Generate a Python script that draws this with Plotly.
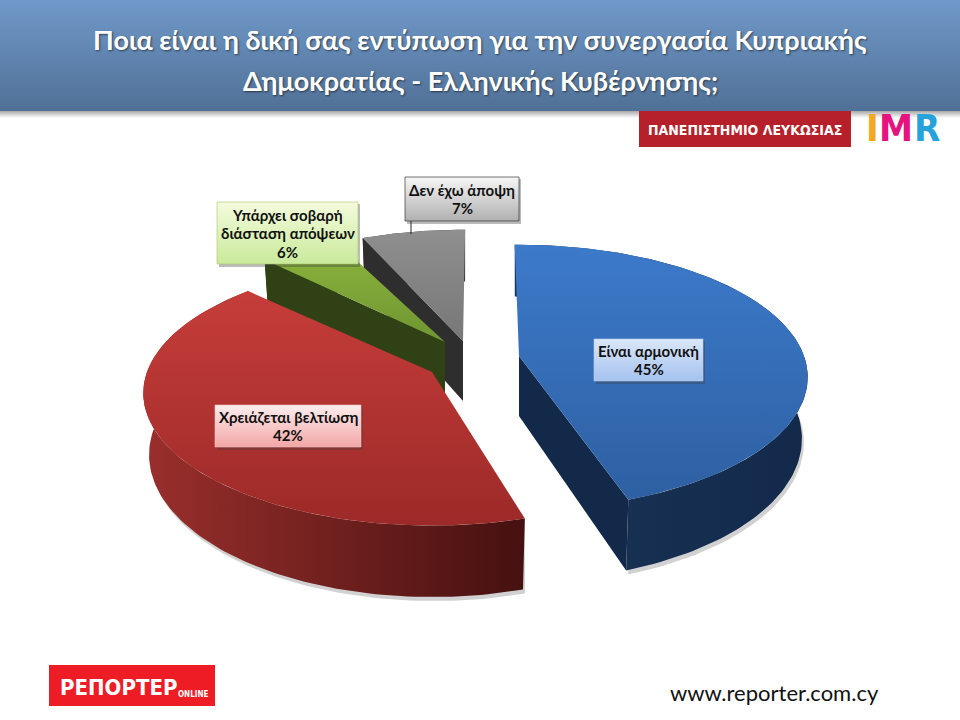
import numpy as np
import plotly.graph_objects as go

# ---------- data ----------
categories = ["Είναι αρμονική", "Χρειάζεται βελτίωση", "Υπάρχει σοβαρή διάσταση απόψεων", "Δεν έχω άποψη"]
shares = [45, 42, 6, 7]
label_lines = [["Είναι αρμονική"], ["Χρειάζεται βελτίωση"], ["Υπάρχει σοβαρή", "διάσταση απόψεων"], ["Δεν έχω άποψη"]]
title_lines = ["Ποια είναι η δική σας εντύπωση για την συνεργασία Κυπριακής",
               "Δημοκρατίας - Ελληνικής Κυβέρνησης;"]
site = "www.reporter.com.cy"

# ---------- pie projection (page pixels) ----------
START_DEG = -1.0
RX, RY, PERSP = 285.0, 129.0, 0.16
HEIGHT, BOTTOM_SHRINK = 60.0, 0.98
apex = [(519, 356), (432, 372), (445, 342), (463, 341)]
trim = [(0, 0), (3, 2), (3, 0), (2.4, 1.5)]
top_grad = [("#3c7aca", "#2e60a2"), ("#c63d3a", "#9c2a28"), ("#8db53d", "#6f9631"), ("#8f8f8f", "#777777")]
wall_grad = [("#1a3558", "#12294a"), ("#9a2f2c", "#451110"), ("#3a4f1c", "#2f4115"), ("#3a3a3a", "#2e2e2e")]
boxes = [(594, 339, 703, 381), (215, 405, 361, 447), (217, 202, 358, 264), (405, 177, 519, 221)]
box_grad = [("#dbe7fa", "#a5c2ef"), ("#fdeeee", "#f3a6a6"), ("#f4fbdc", "#c9ea9b"), ("#f6f6f6", "#b0b0b0")]
box_line = ["#b9cdea", "#f2c4c4", "#a9c56c", "#1a1a1a"]
NARROW = "DejaVu Sans Condensed"


def project(theta_deg, ax, ay):
    t = np.radians(theta_deg)
    u, v = np.sin(t), np.cos(t)
    w = 1 + PERSP * v
    return ax + RX * u / w, ay - RY * v / w, w


def poly(fig, xs, ys, c0, c1=None, kind="vertical", opacity=None, line=None):
    xs = list(xs) + [xs[0]]
    ys = list(ys) + [ys[0]]
    tr = dict(x=xs, y=ys, mode="lines", fill="toself", hoverinfo="skip", showlegend=False,
              line=dict(width=0.6 if line else 0, color=line or "rgba(0,0,0,0)"))
    if c1 is None:
        tr["fillcolor"] = c0
    elif kind == "vertical":
        # the y axis is reversed: colour 1 is the top of the screen
        tr["fillgradient"] = dict(type=kind, colorscale=[[0, c1], [1, c0]])
    else:
        tr["fillgradient"] = dict(type=kind, colorscale=[[0, c0], [1, c1]])
    if opacity is not None:
        tr["opacity"] = opacity
    fig.add_trace(go.Scatter(**tr))


def rect(fig, x0, y0, x1, y1, c0, c1=None, kind="vertical", **kw):
    poly(fig, [x0, x1, x1, x0], [y0, y0, y1, y1], c0, c1, kind, **kw)


def text(fig, x, y, s, size, color="#000000", bold=False, family="Lato", shadow=None, xanchor="center"):
    fig.add_annotation(x=x, y=y, text=s, showarrow=False, xref="x", yref="y", xanchor=xanchor, yanchor="middle",
                       font=dict(size=size, color=color, family=family, weight="bold" if bold else "normal",
                                 shadow=shadow or "none"))


fig = go.Figure()

# header band with drop shadow
rect(fig, 0, 111, 960, 118, "#a9a9a9", "#ffffff")
rect(fig, 0, 0, 960, 111, "#7099c9", "#507096")

# wedge geometry from shares
edges = START_DEG + np.cumsum([0] + shares) * 3.6
geom = []
for i in range(len(shares)):
    a0, a1 = edges[i] + trim[i][0], edges[i + 1] + trim[i][1]
    th = np.linspace(a0, a1, 120)
    ax, ay = apex[i]
    x, y, w = project(th, ax, ay)
    bx = ax + (x - ax) * BOTTOM_SHRINK
    by = y + HEIGHT / w
    geom.append(dict(ax=ax, ay=ay, x=x, y=y, bx=bx, by=by, a0=a0, a1=a1))

# soft shadow beneath the solid
for i in (0, 1):
    g = geom[i]
    poly(fig, list(g["x"] + 0) + list((g["bx"] + 2)[::-1]), list(g["y"]) + list((g["by"] + 4)[::-1]),
         "rgba(90,90,90,0.28)")


def draw_wedge(i, cut_sides):
    g = geom[i]
    ax, ay = g["ax"], g["ay"]
    hb = ay + HEIGHT
    # outer wall
    poly(fig, list(g["x"]) + list(g["bx"][::-1]), list(g["y"]) + list(g["by"][::-1]),
         wall_grad[i][0], wall_grad[i][1], "horizontal")
    # cut faces
    for side in cut_sides:
        k = 0 if side == "start" else -1
        poly(fig, [ax, g["x"][k], g["bx"][k], ax], [ay, g["y"][k], g["by"][k], hb], wall_grad[i][1])
    # top
    poly(fig, [ax] + list(g["x"]), [ay] + list(g["y"]), top_grad[i][0], top_grad[i][1], "vertical")


draw_wedge(3, ["start"])
draw_wedge(2, ["start"])
draw_wedge(0, ["end"])
draw_wedge(1, [])

# leader line of the grey label
fig.add_trace(go.Scatter(x=[411, 411], y=[221, 234], mode="lines", line=dict(color="#222222", width=1),
                         hoverinfo="skip", showlegend=False))

# data labels
for i, (x0, y0, x1, y1) in enumerate(boxes):
    rect(fig, x0 + 2, y0 + 2, x1 + 2, y1 + 3, "rgba(60,60,60,0.35)")
    rect(fig, x0, y0, x1, y1, box_grad[i][0], box_grad[i][1], line=box_line[i])
    rows = label_lines[i] + [f"{shares[i]}%"]
    step = 18.5
    top = (y0 + y1) / 2 - step * (len(rows) - 1) / 2
    for r, row in enumerate(rows):
        text(fig, (x0 + x1) / 2, top + r * step, row, 15, "#111111", bold=True)

# title
for y, line in zip((39, 80), title_lines):
    text(fig, 480, y, line, 27, "#ffffff", bold=True, shadow="1px 1px 2px rgba(0,0,0,0.55)")

# logos
rect(fig, 639, 111, 851, 147, "#b5202a")
text(fig, 745, 130, "ΠΑΝΕΠΙΣΤΗΜΙΟ ΛΕΥΚΩΣΙΑΣ", 14, "#ffffff", bold=True, family=NARROW)
for x, ch, col in ((872, "I", "#f7a823"), (896, "M", "#e5127f"), (927, "R", "#27a3dc")):
    text(fig, x, 128, ch, 38, col, bold=True, family=NARROW)
rect(fig, 49, 665, 215, 706, "#ee1c25")
text(fig, 58, 687, "ΡΕΠΟΡΤΕΡ", 22, "#ffffff", bold=True, family=NARROW, xanchor="left")
text(fig, 176, 694, "ONLINE", 8, "#ffffff", bold=True, family=NARROW, xanchor="left")
text(fig, 774, 692, site, 22, "#111111", family="Lato")

fig.update_layout(width=960, height=720, margin=dict(l=0, r=0, t=0, b=0), paper_bgcolor="#ffffff",
                  plot_bgcolor="#ffffff", showlegend=False,
                  xaxis=dict(range=[0, 960], visible=False, fixedrange=True),
                  yaxis=dict(range=[720, 0], visible=False, fixedrange=True))
fig.write_html("out.html", config=dict(displayModeBar=False),
               post_script="document.body.style.margin='0';document.body.style.overflow='hidden';")
